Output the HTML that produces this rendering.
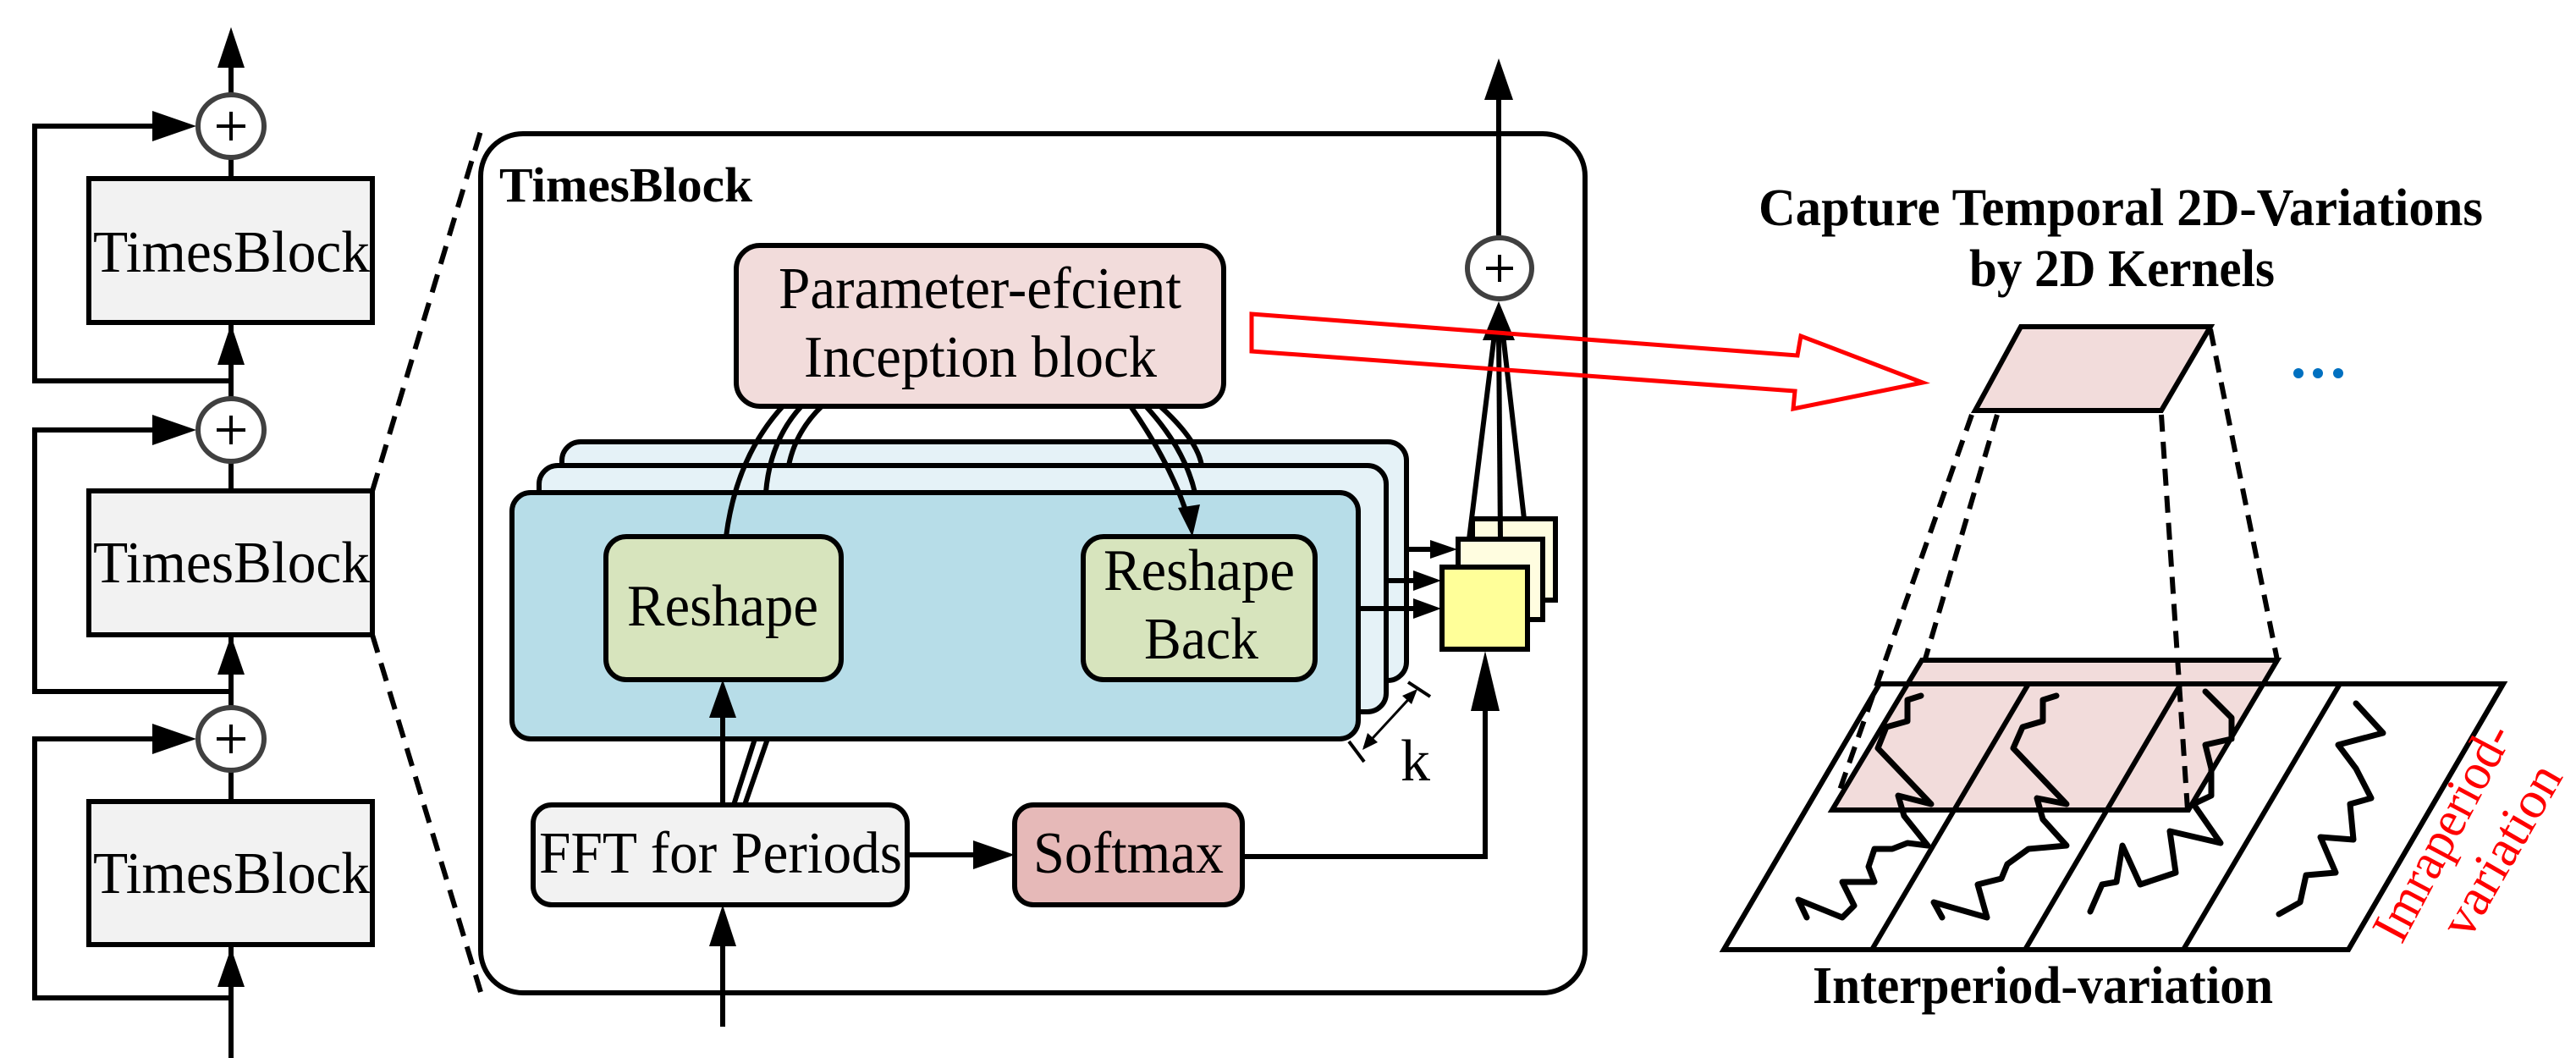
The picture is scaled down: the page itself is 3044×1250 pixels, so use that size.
<!DOCTYPE html>
<html><head><meta charset="utf-8"><style>html,body{margin:0;padding:0;background:#fff}svg{display:block}text{font-family:"Liberation Serif",serif}</style></head>
<body>
<svg width="3044" height="1250" viewBox="0 0 3044 1250" xmlns="http://www.w3.org/2000/svg" font-family="'Liberation Serif', serif">
<g stroke="#000" stroke-width="6" fill="none">
<!-- left column -->
<line x1="273" y1="1250" x2="273" y2="80"/>
<polygon points="273,32 257,80 289,80" fill="#000" stroke="none"/>
<polygon points="273,383 257,431 289,431" fill="#000" stroke="none"/>
<polygon points="273,751 257,797 289,797" fill="#000" stroke="none"/>
<polygon points="273,1120 257,1166 289,1166" fill="#000" stroke="none"/>
<polyline points="273,450 41,450 41,149 185,149"/>
<polyline points="273,817 41,817 41,508 185,508"/>
<polyline points="273,1179 41,1179 41,873 185,873"/>
<polygon points="232,149 180,131 180,167" fill="#000" stroke="none"/>
<polygon points="232,508 180,490 180,526" fill="#000" stroke="none"/>
<polygon points="232,873 180,855 180,891" fill="#000" stroke="none"/>
<rect x="105" y="211" width="335" height="170" fill="#f2f2f2"/>
<rect x="105" y="580" width="335" height="170" fill="#f2f2f2"/>
<rect x="105" y="947" width="335" height="169" fill="#f2f2f2"/>
<g stroke="#404040" fill="#fff"><ellipse cx="273" cy="149" rx="39" ry="37"/><ellipse cx="273" cy="508" rx="39" ry="37"/><ellipse cx="273" cy="873" rx="39" ry="37"/></g>
<g stroke-width="4"><path d="M256,149h34M273,132v34M256,508h34M273,491v34M256,873h34M273,856v34"/></g>
<line x1="440" y1="580" x2="568" y2="155" stroke-dasharray="22,13"/>
<line x1="440" y1="750" x2="568" y2="1172" stroke-dasharray="22,13"/>
<!-- main block -->
<rect x="568" y="158" width="1305" height="1015" rx="50" fill="#fff"/>
<line x1="1771" y1="280" x2="1771" y2="110"/>
<polygon points="1771,69 1754,118 1788,118" fill="#000" stroke="none"/>
<!-- stacks -->
<rect x="664" y="522" width="998" height="282" rx="22" fill="#e5f2f7"/>
<rect x="637" y="550" width="1001" height="291" rx="22" fill="#e5f2f7"/>
<rect x="605" y="582" width="1000" height="291" rx="22" fill="#b7dde8"/>
<rect x="716" y="634" width="278" height="169" rx="24" fill="#d7e4bd"/>
<rect x="1280" y="634" width="274" height="169" rx="24" fill="#d7e4bd"/>
<rect x="870" y="290" width="576" height="190" rx="28" fill="#f2dcdb"/>
<path d="M925,480 Q870,540 858,634"/>
<path d="M947,480 Q910,520 905,582"/>
<path d="M971,480 Q940,510 932,550"/>
<path d="M1336,480 Q1385,550 1405,615"/>
<polygon points="1409,634 1392,600 1418,596" fill="#000" stroke="none"/>
<path d="M1354,480 Q1400,530 1412,582"/>
<path d="M1371,480 Q1415,520 1420,550"/>
<rect x="630" y="951" width="442" height="118" rx="22" fill="#f2f2f2"/>
<rect x="1199" y="951" width="269" height="118" rx="22" fill="#e6b9b8"/>
<line x1="854" y1="951" x2="854" y2="840"/>
<polygon points="854,803 838,848 870,848" fill="#000" stroke="none"/>
<line x1="867" y1="951" x2="892" y2="873"/>
<line x1="880" y1="951" x2="907" y2="873"/>
<line x1="854" y1="1213" x2="854" y2="1110"/>
<polygon points="854,1069 838,1118 870,1118" fill="#000" stroke="none"/>
<line x1="1072" y1="1010" x2="1160" y2="1010"/>
<polygon points="1199,1010 1150,993 1150,1027" fill="#000" stroke="none"/>
<polyline points="1468,1012 1755,1012 1755,830"/>
<polygon points="1755,769 1738,840 1772,840" fill="#000" stroke="none"/>
<rect x="1740" y="613" width="98" height="96" fill="#fffde0"/>
<rect x="1723" y="637" width="100" height="95" fill="#fffde0"/>
<rect x="1704" y="670" width="101" height="97" fill="#ffff99"/>
<line x1="1662" y1="649" x2="1700" y2="649"/><polygon points="1722,649 1690,638 1690,660" fill="#000" stroke="none"/>
<line x1="1637" y1="686" x2="1680" y2="686"/><polygon points="1703,686 1670,674 1670,698" fill="#000" stroke="none"/>
<line x1="1605" y1="719" x2="1680" y2="719"/><polygon points="1703,719 1670,707 1670,731" fill="#000" stroke="none"/>
<line x1="1736" y1="637" x2="1766" y2="395"/>
<line x1="1773" y1="637" x2="1771" y2="395"/>
<line x1="1801" y1="613" x2="1776" y2="395"/>
<polygon points="1771,356 1752,402 1790,402" fill="#000" stroke="none"/>
<ellipse cx="1772" cy="317" rx="38" ry="36" stroke="#404040" fill="#fff"/>
<path d="M1756,317h32M1772,301v32" stroke-width="4"/>
<line x1="1612" y1="883" x2="1672" y2="818" stroke-width="3"/>
<polygon points="1610,886 1616,866 1628,877" fill="#000" stroke="none"/>
<polygon points="1675,814 1657,822 1668,832" fill="#000" stroke="none"/>
<line x1="1594" y1="876" x2="1612" y2="900" stroke-width="4"/>
<line x1="1664" y1="806" x2="1690" y2="823" stroke-width="4"/>
<polygon points="1479,371 2124,420 2128,397 2272,452 2119,483 2121,462 1479,415" stroke="#ff0000" stroke-width="5" fill="none"/>
<polygon points="2388,386 2612,386 2554,485 2334,485" fill="#f2dcdb"/>
<polygon points="2221,808 2958,808 2775,1122 2037,1122" fill="#fff"/>
<polygon points="2271,780 2691,780 2586,957 2165,957" fill="#f2dcdb" stroke="none"/>
<polygon points="2221,808 2958,808 2775,1122 2037,1122"/>
<line x1="2397" y1="808" x2="2212" y2="1122"/>
<line x1="2577" y1="808" x2="2393" y2="1122"/>
<line x1="2765" y1="808" x2="2580" y2="1122"/>
<polygon points="2271,780 2691,780 2586,957 2165,957"/>
<g stroke-dasharray="20,12">
<line x1="2330" y1="490" x2="2173" y2="936"/>
<line x1="2360" y1="490" x2="2274" y2="782"/>
<line x1="2554" y1="490" x2="2585" y2="957"/>
<line x1="2612" y1="389" x2="2691" y2="780"/>
</g>
<g stroke-width="7" stroke-linejoin="round" stroke-linecap="round">
<polyline points="2270,822 2254,827 2254,852 2229,859 2219,884 2282,950 2243,940 2250,964 2278,999 2254,996 2236,1003 2215,1003 2208,1024 2215,1042 2177,1042 2191,1070 2177,1084 2125,1063 2135,1084"/>
<polyline points="2430,822 2414,827 2414,852 2390,859 2379,884 2442,950 2407,943 2414,968 2442,999 2397,1003 2372,1021 2365,1038 2337,1045 2348,1084 2285,1066 2295,1084"/>
<polyline points="2606,817 2637,848 2637,873 2606,880 2613,908 2613,940 2592,950 2624,996 2564,982 2571,1031 2529,1045 2508,999 2501,1042 2484,1045 2470,1077"/>
<polyline points="2784,831 2816,866 2763,880 2784,908 2802,943 2777,950 2781,992 2742,989 2760,1031 2725,1034 2718,1066 2693,1080"/>
</g>
</g>
<g fill="#0070c0"><circle cx="2716" cy="441" r="6"/><circle cx="2739" cy="441" r="6"/><circle cx="2763" cy="441" r="6"/></g>
<g font-size="70" fill="#000">
<text x="110" y="321" textLength="327" lengthAdjust="spacingAndGlyphs">TimesBlock</text>
<text x="110" y="688" textLength="327" lengthAdjust="spacingAndGlyphs">TimesBlock</text>
<text x="110" y="1055" textLength="327" lengthAdjust="spacingAndGlyphs">TimesBlock</text>
<text x="920" y="364" textLength="476" lengthAdjust="spacingAndGlyphs">Parameter-efcient</text>
<text x="950" y="445" textLength="417" lengthAdjust="spacingAndGlyphs">Inception block</text>
<text x="741" y="739" textLength="226" lengthAdjust="spacingAndGlyphs">Reshape</text>
<text x="1304" y="697" textLength="226" lengthAdjust="spacingAndGlyphs">Reshape</text>
<text x="1352" y="778" textLength="135" lengthAdjust="spacingAndGlyphs">Back</text>
<text x="637" y="1031" textLength="429" lengthAdjust="spacingAndGlyphs">FFT for Periods</text>
<text x="1221" y="1031" textLength="225" lengthAdjust="spacingAndGlyphs">Softmax</text>
<text x="1655" y="922">k</text>
</g>
<g font-weight="bold" fill="#000">
<text x="590" y="238" font-size="58" textLength="299" lengthAdjust="spacingAndGlyphs">TimesBlock</text>
<text x="2078" y="266" font-size="62" textLength="856" lengthAdjust="spacingAndGlyphs">Capture Temporal 2D-Variations</text>
<text x="2327" y="338" font-size="62" textLength="361" lengthAdjust="spacingAndGlyphs">by 2D Kernels</text>
<text x="2142" y="1185" font-size="62" textLength="544" lengthAdjust="spacingAndGlyphs">Interperiod-variation</text>
</g>
<g fill="#ff0000" font-size="62">
<text transform="translate(2838,1117) rotate(-62)" textLength="282" lengthAdjust="spacingAndGlyphs">Imraperiod-</text>
<text transform="translate(2917,1112) rotate(-60)" textLength="225" lengthAdjust="spacingAndGlyphs">variation</text>
</g>
</svg>
</body></html>
